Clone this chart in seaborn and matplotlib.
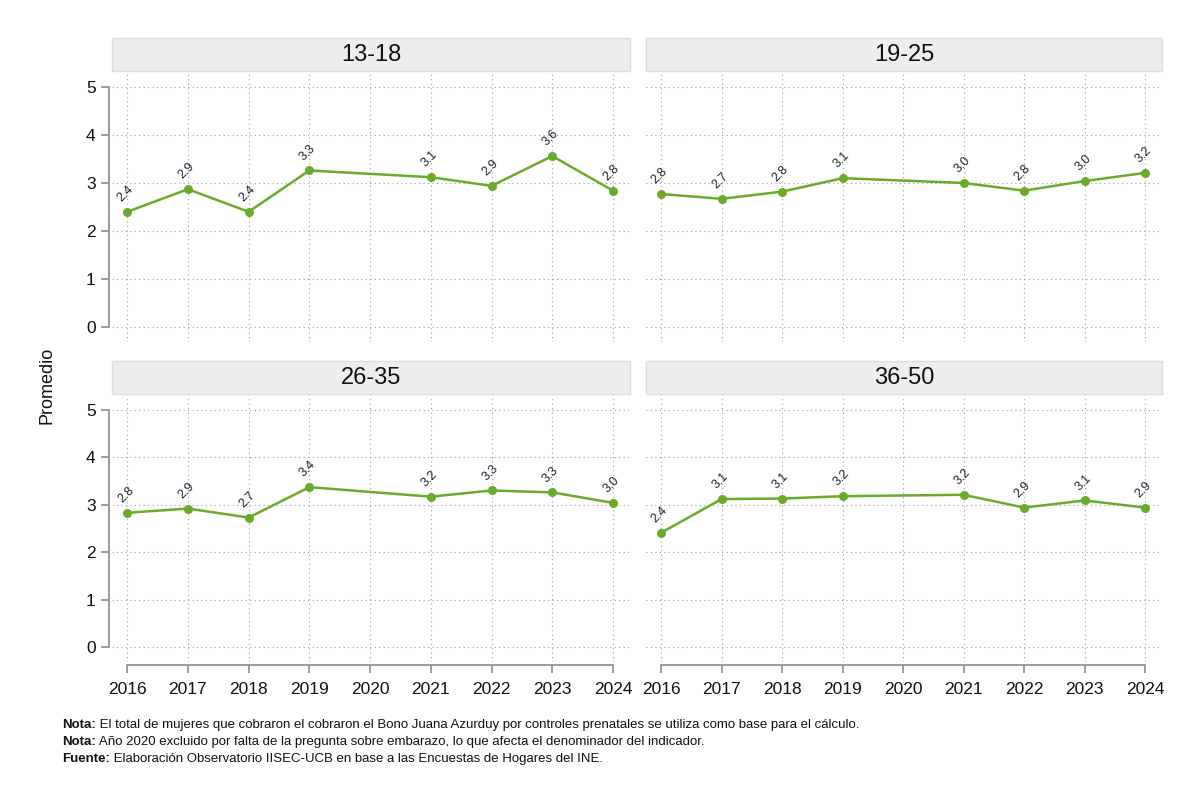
import pandas as pd
import numpy as np
import matplotlib.pyplot as plt
import seaborn as sns
from matplotlib.patches import Rectangle
import warnings

warnings.filterwarnings('ignore')

# Datos
years = [2016, 2017, 2018, 2019, 2021, 2022, 2023, 2024]
grupos = ['13-18', '19-25', '26-35', '36-50']
grupo_13_18 = [2.40, 2.87, 2.40, 3.26, 3.12, 2.94, 3.56, 2.84]
grupo_19_25 = [2.77, 2.67, 2.82, 3.10, 3.00, 2.84, 3.04, 3.21]
grupo_26_35 = [2.83, 2.92, 2.73, 3.37, 3.17, 3.30, 3.26, 3.04]
grupo_36_50 = [2.41, 3.12, 3.13, 3.18, 3.21, 2.94, 3.09, 2.94]
xticks = [2016, 2017, 2018, 2019, 2020, 2021, 2022, 2023, 2024]
yticks = [0, 1, 2, 3, 4, 5]

notas = [
    ('Nota:', ' El total de mujeres que cobraron el cobraron el Bono Juana Azurduy por controles prenatales se utiliza como base para el cálculo.'),
    ('Nota:', ' Año 2020 excluido por falta de la pregunta sobre embarazo, lo que afecta el denominador del indicador.'),
    ('Fuente:', ' Elaboración Observatorio IISEC-UCB en base a las Encuestas de Hogares del INE.'),
]

df = pd.DataFrame({
    'anio': years * 4,
    'grupo': np.repeat(grupos, len(years)),
    'valor': grupo_13_18 + grupo_19_25 + grupo_26_35 + grupo_36_50,
})

sns.set_theme(style='white')
plt.rcParams['font.family'] = ['Liberation Sans Narrow', 'Liberation Sans', 'DejaVu Sans']

verde = '#6AAB2C'
gris = '#8C8C8C'

g = sns.relplot(data=df, x='anio', y='valor', col='grupo', col_wrap=2, kind='line',
                marker='o', color=verde, linewidth=1.8, markersize=6.5,
                markeredgewidth=0, height=3, aspect=1.3,
                facet_kws=dict(sharex=True, sharey=True))
fig = g.figure
fig.set_size_inches(12, 8.01)

# posiciones de los paneles (pixeles del original)
W, H = 1200, 801
pos = {
    '13-18': (112, 72, 630, 342),
    '19-25': (646, 72, 1162, 342),
    '26-35': (112, 395, 630, 662),
    '36-50': (646, 395, 1162, 662),
}

for ax, grupo in zip(g.axes.flat, grupos):
    x0, y0, x1, y1 = pos[grupo]
    ax.set_position([x0 / W, 1 - y1 / H, (x1 - x0) / W, (y1 - y0) / H])
    ax.set_title('')
    ax.set_xlabel('')
    ax.set_ylabel('')
    ax.set_xlim(2015.75, 2024.28)
    ax.set_ylim(-0.31, 5.31)
    ax.set_xticks(xticks)
    ax.set_yticks(yticks)
    ax.grid(True, linestyle=(0, (1, 3)), color='#A0A0A0', linewidth=0.8)
    for s in ['top', 'right']:
        ax.spines[s].set_visible(False)
    ax.spines['left'].set_position(('outward', 2.2))
    ax.spines['left'].set_bounds(0, 5)
    ax.spines['bottom'].set_position(('outward', 2.2))
    ax.spines['bottom'].set_bounds(2016, 2024)
    for s in ['left', 'bottom']:
        ax.spines[s].set_color(gris)
        ax.spines[s].set_linewidth(1.2)
    ax.tick_params(axis='both', colors=gris, labelcolor='#111111', labelsize=12.5,
                   length=6, width=1.2, direction='out', left=True, bottom=True)
    ax.tick_params(axis='x', pad=6)

    superior = grupo in ['13-18', '19-25']
    derecha = grupo in ['19-25', '36-50']
    if superior:
        ax.spines['bottom'].set_visible(False)
        ax.tick_params(axis='x', bottom=False, labelbottom=False)
    else:
        ax.tick_params(axis='x', labelbottom=True)
    if derecha:
        ax.spines['left'].set_visible(False)
        ax.tick_params(axis='y', left=False, labelleft=False)
    else:
        ax.tick_params(axis='y', labelleft=True)

    # franja del titulo
    alto = 33 / (y1 - y0)
    ax.add_patch(Rectangle((0, 1.003), 1, alto, transform=ax.transAxes,
                           facecolor='#EEEEEE', edgecolor='#D3E2EA',
                           linewidth=1, clip_on=False, zorder=5))
    ax.text(0.5, 1.003 + alto / 2, grupo, transform=ax.transAxes, ha='center',
            va='center', fontsize=17, color='#111111', zorder=6)

    # etiquetas de valores
    sub = df[df['grupo'] == grupo]
    for xv, yv in zip(sub['anio'], sub['valor']):
        ax.annotate(f'{yv:.1f}', xy=(xv, yv), xytext=(-1, 13),
                    textcoords='offset points', ha='center', va='center',
                    rotation=45, fontsize=9, color='#1A2333')

fig.text(47 / W, 1 - 385 / H, 'Promedio', rotation=90, ha='center', va='center',
         fontsize=13, color='#111111')

# notas al pie
base_y = [725, 742, 759]
ax0 = g.axes.flat[0]
for (neg, resto), yy in zip(notas, base_y):
    t = fig.text(62 / W, 1 - yy / H, neg, ha='left', va='center', fontsize=9.5,
                 fontweight='bold', color='#111111')
    ax0.annotate(resto, xy=(1, 0.5), xycoords=t, ha='left', va='center',
                 fontsize=9.5, color='#111111', annotation_clip=False)

fig.savefig('out.png', dpi=100)
